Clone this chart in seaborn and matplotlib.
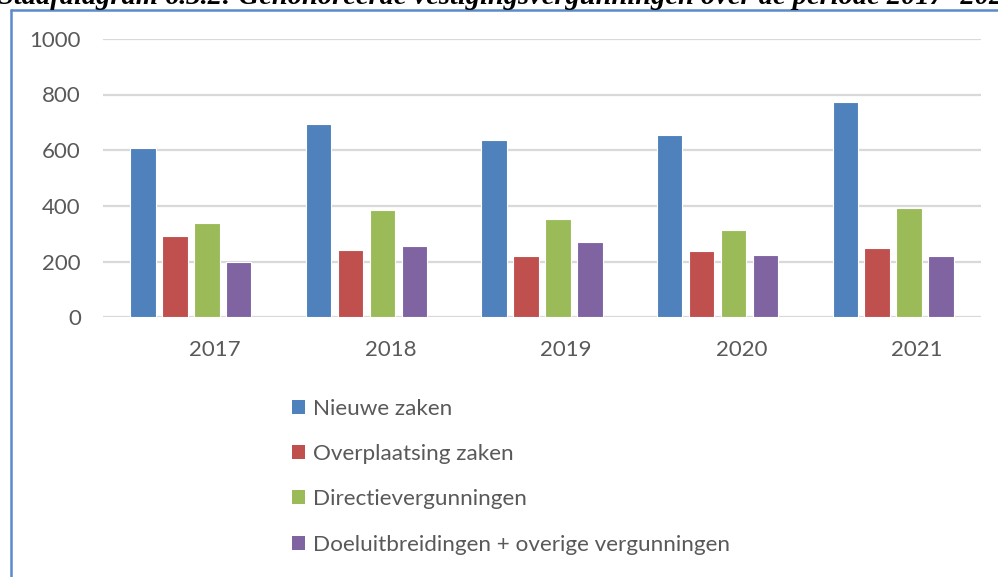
import matplotlib
matplotlib.use("Agg")
import matplotlib.pyplot as plt
import matplotlib.transforms as mtransforms
from matplotlib.patches import Patch
from matplotlib.lines import Line2D
import seaborn as sns
import pandas as pd

# Data
years = ["2017", "2018", "2019", "2020", "2021"]
series_names = [
    "Nieuwe zaken",
    "Overplaatsing zaken",
    "Directievergunningen",
    "Doeluitbreidingen + overige vergunningen",
]
nieuwe_zaken = [607, 693, 636, 655, 774]
overplaatsing_zaken = [291, 243, 219, 238, 248]
directievergunningen = [338, 386, 352, 313, 391]
doeluitbreidingen = [200, 257, 271, 224, 219]
colors = ["#4F81BD", "#C0504D", "#9BBB59", "#8064A2"]
y_ticks = [0, 200, 400, 600, 800, 1000]
title = "Staafdiagram 6.3.2: Gehonoreerde vestigingsvergunningen over de periode 2017- 2021"

rows = []
for name, vals in zip(series_names,
                      [nieuwe_zaken, overplaatsing_zaken, directievergunningen, doeluitbreidingen]):
    for yr, v in zip(years, vals):
        rows.append({"Jaar": yr, "Categorie": name, "Aantal": v})
df = pd.DataFrame(rows)

sns.set_theme(style="white")
plt.rcParams["font.family"] = ["Lato", "DejaVu Sans"]

W, H, DPI = 998, 577, 100
fig = plt.figure(figsize=(W / DPI, H / DPI), dpi=DPI)
fig.patch.set_facecolor("white")

ax = fig.add_axes([103 / W, (H - 317.3) / H, (981 - 103) / W, (317.3 - 38.8) / H])

sns.barplot(data=df, x="Jaar", y="Aantal", hue="Categorie", order=years,
            hue_order=series_names, palette=colors, width=0.727, gap=0.2,
            edgecolor="white", linewidth=0.8, saturation=1, ax=ax, legend=False)

ax.set_ylim(0, 1000)
ax.set_xlim(-0.5, len(years) - 0.5)
ax.set_yticks(y_ticks)
ax.yaxis.grid(True, color="#d9d9d9", linewidth=1.6)
ax.set_axisbelow(True)
for s in ax.spines.values():
    s.set_visible(False)
ax.set_xlabel("")
ax.set_ylabel("")
ax.tick_params(axis="y", length=0, pad=16, labelsize=16, labelcolor="#595959")
ax.tick_params(axis="x", length=0, pad=16, labelsize=16, labelcolor="#595959")

# category labels sit slightly right of the bar groups
shift = mtransforms.ScaledTranslation(24 / DPI, 0, fig.dpi_scale_trans)
for lbl in ax.get_xticklabels():
    lbl.set_transform(lbl.get_transform() + shift)

# legend below the chart, one entry per row
handles = [Patch(facecolor=c, edgecolor="none") for c in colors]
fig.legend(handles, series_names, loc="upper left",
           bbox_to_anchor=(292 / W, (H - 399) / H), frameon=False,
           fontsize=16.2, labelcolor="#595959", handlelength=0.58,
           handleheight=0.58, handletextpad=0.35, labelspacing=1.12,
           borderpad=0, borderaxespad=0)

# frame lines of the surrounding box
fig.add_artist(Line2D([11 / W, 1.0], [(H - 10) / H, (H - 10) / H],
                      transform=fig.transFigure, color="#5B8BC9", linewidth=1.8))
fig.add_artist(Line2D([11 / W, 11 / W], [0, (H - 10) / H],
                      transform=fig.transFigure, color="#5B8BC9", linewidth=1.8))

# caption above the box, running past the top edge
fig.text(-2 / W, (H - 3.5) / H, title, family="Liberation Serif", style="italic",
         weight="bold", fontsize=20.5, color="black", ha="left", va="baseline")

fig.savefig("out.png", dpi=DPI)
